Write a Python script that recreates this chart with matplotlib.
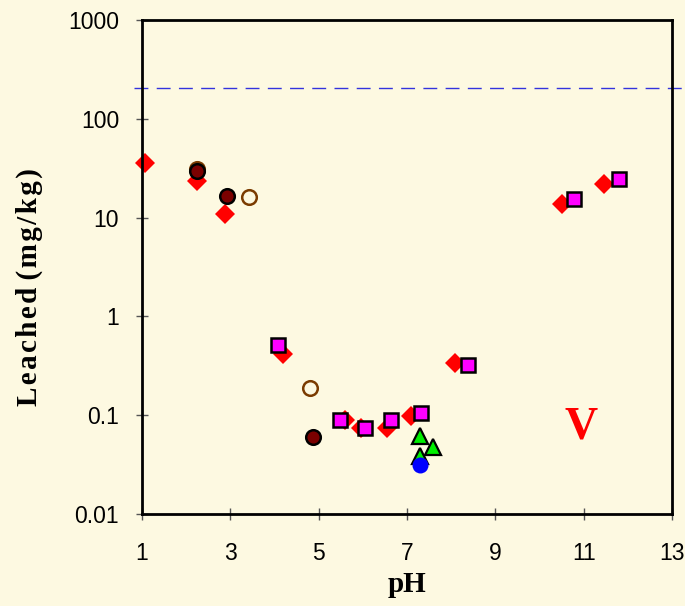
import numpy as np
import matplotlib.pyplot as plt

bg = '#fdf9e1'

# Leached V (mg/kg) versus pH, one array pair per sample series
ph_diamond = [1.07, 2.25, 2.88, 4.19, 5.6, 5.95, 6.55, 7.1, 8.09, 10.5, 11.46]
v_diamond = [35.7, 23.5, 10.9, 0.417, 0.089, 0.075, 0.074, 0.098, 0.34, 13.7, 21.9]

ph_square = [4.08, 5.48, 6.04, 6.64, 7.32, 8.38, 10.78, 11.8]
v_square = [0.51, 0.089, 0.074, 0.089, 0.105, 0.32, 15.4, 24.6]

ph_dot = [2.24, 2.92, 4.87]
v_dot = [29.5, 16.5, 0.06]

ph_ring = [2.25, 3.43, 4.8]
v_ring = [31.0, 16.0, 0.19]

ph_tri = [7.3, 7.6, 7.3]
v_tri = [0.062, 0.048, 0.039]

ph_blue = [7.3]
v_blue = [0.031]

limit_value = 205

fig = plt.figure(figsize=(6.85, 6.06), dpi=100, facecolor=bg)
ax = fig.add_axes([0.2073, 0.1518, 0.7737, 0.8152])
ax.set_facecolor(bg)

ax.plot([0.82, 13.22], [limit_value, limit_value], color='#3333dd', lw=1,
        dashes=(10, 6), clip_on=False, zorder=1)

ax.plot(ph_diamond, v_diamond, 'D', ms=10.5, mfc='#ff0000', mec='#ff0000',
        mew=0, zorder=2, clip_on=False)
ax.plot(ph_square, v_square, 's', ms=10.5, mfc='#ff00ff', mec='black',
        mew=1.8, zorder=3)
ax.plot(ph_ring, v_ring, 'o', ms=10.5, mfc='none', mec='#7a3b00', mew=1.8,
        zorder=3)
ax.plot(ph_dot, v_dot, 'o', ms=10.5, mfc='#7a0000', mec='black', mew=1.8,
        zorder=4)
ax.plot(ph_tri, v_tri, '^', ms=11, mfc='#00ee00', mec='black', mew=1.6,
        zorder=4)
ax.plot(ph_blue, v_blue, 'o', ms=11.5, mfc='#0000ff', mec='#0000ff', mew=0,
        zorder=5)

ax.text(10.95, 0.075, 'V', color='#ff0000', fontsize=33, fontweight='bold',
        family='Liberation Serif', ha='center', va='center')

ax.set_yscale('log')
ax.set_xlim(1, 13)
ax.set_ylim(0.01, 1000)
ax.set_xticks(np.arange(1, 14, 2))
ax.set_yticks([0.01, 0.1, 1, 10, 100, 1000])
ax.set_yticklabels(['0.01', '0.1', '1', '10', '100', '1000'])
ax.minorticks_off()

for s in ax.spines.values():
    s.set_linewidth(2)
    s.set_color('black')
ax.tick_params(direction='inout', length=9, width=1, color='#555555',
               labelsize=16.5)
ax.tick_params(axis='y', pad=12)
ax.tick_params(axis='x', pad=16)
for lab in ax.get_xticklabels() + ax.get_yticklabels():
    lab.set_family('Liberation Sans')

hs = '\u200a'
ax.set_xlabel('pH', fontsize=21, fontweight='bold', family='Liberation Serif',
              labelpad=4)
ax.set_ylabel(hs.join('Leached') + ' ' + hs.join('(mg/kg)'), fontsize=21,
              fontweight='bold', family=['Liberation Serif', 'DejaVu Serif'])
ax.yaxis.set_label_coords(-0.186, 0.46)

fig.savefig('out.png', dpi=100, facecolor=bg)
